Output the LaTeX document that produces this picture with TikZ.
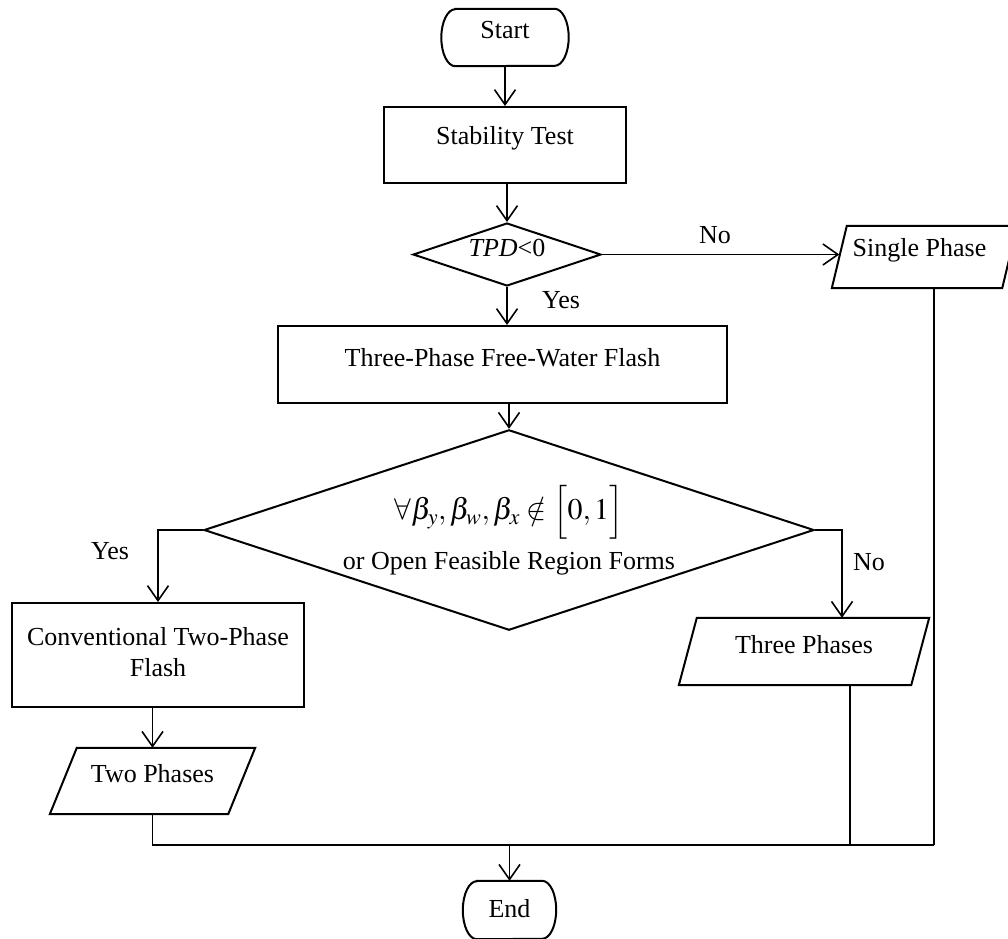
\documentclass[tikz,border=0pt]{standalone}
\usepackage{mathptmx}
\usepackage{fontspec}
\setmainfont{Liberation Serif}
\usetikzlibrary{arrows.meta,shapes.geometric}

% text set a little above the middle of its box
\newcommand\lifted[1]{\raisebox{7pt}[\height][\depth]{#1}}
% terminal outline with elliptical ends: #1 node, #2 half height
\newcommand\termoutline[2]{%
  \draw[shapeline] ([xshift=14pt]#1.north west) -- ([xshift=-14pt]#1.north east)
    arc[start angle=90,end angle=-90,x radius=14pt,y radius=#2]
    -- ([xshift=14pt]#1.south west)
    arc[start angle=270,end angle=90,x radius=14pt,y radius=#2] -- cycle;}
% input/output parallelogram: #1 node, #2 slant
\newcommand\pgramoutline[2]{%
  \draw[shapeline] ([xshift=#2]#1.north west) -- (#1.north east)
    -- ([xshift=-#2]#1.south east) -- (#1.south west) -- cycle;}

\begin{document}
\begin{tikzpicture}[x=1pt,y=-1pt,
  font=\fontsize{26}{31}\selectfont,
  shapeline/.style={draw=black,line width=2pt,line join=miter},
  termbox/.style={rectangle,inner sep=0pt},
  iobox/.style={rectangle,inner sep=0pt,align=center},
  procbox/.style={rectangle,draw=black,line width=2pt,inner sep=0pt,align=center},
  decbox/.style={diamond,draw=black,line width=2pt,inner sep=0pt,shape aspect=3,align=center},
  conn/.style={draw=black,line width=1.8pt},
  arrowconn/.style={conn,-{Straight Barb[length=15pt,width=21pt,line width=1.6pt]}},
  lbl/.style={inner sep=0pt}]
\useasboundingbox (0,0) rectangle (1008,938);

% shapes
\node[termbox,minimum width=127pt,minimum height=57pt] (start) at (505,37.5) {\lifted{Start}};
\termoutline{start}{28.5pt}
\node[procbox,minimum width=242pt,minimum height=76pt] (stab) at (505,145) {\lifted{Stability Test}};
\node[decbox,minimum width=188pt,minimum height=63pt] (tpd) at (507,254.5) {\lifted{\textit{TPD}<0}};
\node[iobox,minimum width=185pt,minimum height=62pt] (single) at (924.5,257) {\lifted{\hspace*{-10pt}Single Phase}};
\pgramoutline{single}{15pt}
\node[procbox,minimum width=449pt,minimum height=77pt] (flash) at (502.5,364.5) {\lifted{Three-Phase Free-Water Flash}};
\node[decbox,minimum width=610pt,minimum height=199pt] (check) at (509,530)
  {\fontsize{30}{34}\selectfont$\forall\beta_y,\beta_w,\beta_x\notin\Bigl[0,1\Bigr]$\\[11pt]
   or Open Feasible Region Forms};
\node[procbox,minimum width=292pt,minimum height=104pt] (conv) at (158,655)
  {\raisebox{4pt}{\begin{tabular}{@{}c@{}}Conventional Two-Phase\\Flash\end{tabular}}};
\node[iobox,minimum width=250pt,minimum height=67pt] (three) at (804,651.5) {\lifted{Three Phases}};
\pgramoutline{three}{18pt}
\node[iobox,minimum width=205pt,minimum height=66pt] (two) at (152.5,781) {\lifted{Two Phases}};
\pgramoutline{two}{27pt}
\node[termbox,minimum width=93pt,minimum height=58pt] (end) at (509.5,910) {\raisebox{3pt}{End}};
\termoutline{end}{29pt}

% connection points
\coordinate (singlein) at ([xshift=7.5pt]single.west);
\coordinate (threein) at ([xshift=38pt]three.north);
\coordinate (singleout) at ([xshift=9.5pt]single.south);
\coordinate (threeout) at ([xshift=46pt]three.south);
\coordinate (merge) at (934,845);

% connectors
\draw[arrowconn] (start.south) -- (start.south |- stab.north);
\draw[arrowconn] (tpd.north |- stab.south) -- (tpd.north);
\draw[arrowconn] (tpd.east) -- (tpd.east -| singlein);
\draw[arrowconn] (tpd.south) -- (tpd.south |- flash.north);
\draw[arrowconn] (check.north |- flash.south) -- (check.north);
\draw[arrowconn] (check.west) -| (conv.north);
\draw[arrowconn] (check.east) -| (threein);
\draw[arrowconn] (two.north |- conv.south) -- (two.north);
\draw[conn] (two.south) |- (merge);
\draw[conn] (singleout) -- (merge);
\draw[conn] (threeout) -- (threeout |- merge);
\draw[arrowconn] (end.north |- merge) -- (end.north);

% branch labels
\node[lbl] (no1) at (715,235) {No};
\node[lbl] (yes1) at (561,300) {Yes};
\node[lbl] (yes2) at (110,551) {Yes};
\node[lbl] (no2) at (869,562) {No};
\end{tikzpicture}
\end{document}
